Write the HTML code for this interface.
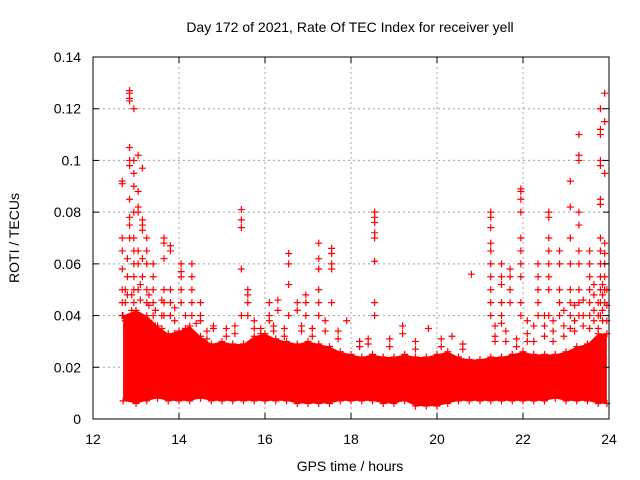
<!DOCTYPE html>
<html><head><meta charset="utf-8"><style>
body{margin:0;background:#fff}
svg{display:block;font-family:"Liberation Sans",Arial,sans-serif;font-size:14px}
</style></head><body>
<svg id="chart" width="640" height="480" viewBox="0 0 640 480">
<rect width="640" height="480" fill="#fff"/>
<text x="350" y="32" text-anchor="middle">Day 172 of 2021, Rate Of TEC Index for receiver yell</text>
<text x="350" y="471" text-anchor="middle">GPS time / hours</text>
<text transform="translate(19,238) rotate(-90)" text-anchor="middle">ROTI / TECUs</text>
<g id="grid"></g>
<g id="band"></g>
<g id="pts"></g>
<g id="axes"></g>
</svg>
<script>
const xTicks=[12,14,16,18,20,22,24];
const yTicks=[0,0.02,0.04,0.06,0.08,0.1,0.12,0.14];
const yTickLabels=["0","0.02","0.04","0.06","0.08","0.1","0.12","0.14"];
const bandHours=[12.7,13.0,13.25,13.5,13.75,14.0,14.25,14.5,14.75,15.0,15.25,15.5,15.75,16.0,16.25,16.5,16.75,17.0,17.25,17.5,17.75,18.0,18.25,18.5,18.75,19.0,19.25,19.5,19.75,20.0,20.25,20.5,20.75,21.0,21.25,21.5,21.75,22.0,22.25,22.5,22.75,23.0,23.25,23.5,23.75,23.95];
const bandLow=[.007,.006,.007,.008,.007,.007,.007,.008,.007,.007,.007,.007,.007,.007,.007,.007,.006,.006,.006,.006,.007,.007,.007,.007,.006,.006,.007,.005,.005,.005,.006,.007,.007,.007,.007,.007,.007,.007,.007,.007,.008,.007,.007,.007,.006,.006];
const bandHigh=[.04,.042,.04,.036,.033,.034,.036,.032,.029,.03,.029,.029,.032,.033,.031,.03,.029,.03,.029,.028,.026,.025,.024,.025,.024,.024,.025,.024,.024,.025,.026,.024,.023,.023,.024,.024,.025,.026,.025,.025,.025,.026,.028,.029,.033,.033];
const outlierHours=[12.68,12.8,12.85,12.95,13.05,13.15,13.25,13.4,13.65,13.8,14.05,14.3,14.5,14.8,15.1,15.45,15.6,15.9,16.1,16.3,16.55,16.75,16.95,17.25,17.55,17.9,18.55,19.2,19.8,20.35,20.8,21.25,21.5,21.7,21.95,22.35,22.6,22.85,23.1,23.3,23.55,23.8,23.9];
const outlierValues=[
[.091,.092,.07,.065,.058,.05,.045,.04],
[.062,.055,.048],
[.124,.126,.123,.127,.105,.1,.098,.085,.078,.075,.07],
[.12,.1,.095,.09,.08,.07,.065,.06,.055,.05,.045],
[.102,.088,.082,.08,.065,.06,.05,.04],
[.097,.077,.075,.073,.062,.055],
[.07,.065,.06,.05,.045],
[.06,.055,.05,.045,.04],
[.07,.068,.062,.05,.045,.04],
[.067,.065,.05,.045,.04],
[.06,.057,.055,.05,.045],
[.06,.055,.05,.045,.04],
[.045,.04,.038],
[.036,.035],
[.035,.032],
[.081,.077,.074,.058,.04],
[.05,.048,.045,.04],
[.035,.033],
[.045,.04,.038],
[.046,.042],
[.064,.06,.052,.04],
[.045,.042],
[.048,.045,.04],
[.068,.062,.058,.05,.045,.04],
[.066,.064,.06,.058,.045],
[.038],
[.08,.078,.076,.072,.07,.061,.045,.04],
[.036,.033],
[.035],
[.032],
[.056],
[.08,.078,.074,.068,.065,.06,.055,.05,.045,.04],
[.06,.055,.052,.045,.04,.037],
[.058,.055,.05,.045],
[.089,.088,.085,.08,.07,.065,.06,.055,.045,.04],
[.06,.055,.05,.045,.04],
[.08,.078,.07,.065,.06,.055,.05,.04],
[.065,.06,.05,.045,.04],
[.092,.082,.07,.06,.05,.045,.04,.035],
[.11,.102,.1,.08,.075,.065,.06,.05,.045,.04],
[.065,.06,.055,.05,.045,.04,.035],
[.12,.112,.11,.1,.098,.085,.083,.07,.065,.06,.055,.05,.045,.04],
[.126,.115,.095,.068,.064,.06,.055,.05,.045]
];
const midHours=[12.75,12.9,13.1,13.3,13.45,13.6,13.9,14.15,14.4,14.65,15.3,15.75,16.2,16.45,16.85,17.1,17.4,17.7,18.2,18.4,18.9,19.5,20.1,20.6,21.35,21.6,21.85,22.1,22.25,22.5,22.7,22.95,23.2,23.4,23.65,23.75,23.85,23.95];
const midValues=[
[.045,.038,.05],[.048,.042,.036],[.046,.04,.052],[.044,.038,.048],[.042,.036],[.04,.046,.035],
[.038,.033,.043],[.04,.035],[.037,.032],[.034,.031],[.033,.036],[.035,.038],[.036,.034],[.035,.032],
[.034,.036],[.035,.032],[.034,.038],[.031,.034],[.03,.028],[.031,.029],[.028,.031],[.027,.03],
[.028,.031],[.027,.029],[.032,.03,.036],[.03,.034],[.031,.028],[.033,.03,.038],[.03,.036],
[.032,.036,.04],[.034,.03,.038],[.036,.032,.042],[.038,.034,.044],[.04,.036,.046],
[.042,.038,.048,.052],[.045,.04,.035],[.048,.042,.038,.052],[.044,.038,.05]
];
const L=93,R=609,T=57,B=419;
const X=h=>L+(h-12)/12*(R-L);
const Y=v=>B-v/0.14*(B-T);
const NS="http://www.w3.org/2000/svg";
function mk(tag,parent,attrs){const e=document.createElementNS(NS,tag);for(const k in attrs)e.setAttribute(k,attrs[k]);parent.appendChild(e);return e;}
const grid=document.getElementById('grid'),axes=document.getElementById('axes'),band=document.getElementById('band'),pts=document.getElementById('pts');
xTicks.forEach((t,i)=>{
  if(i>0&&i<xTicks.length-1){const g=mk('line',grid,{x1:X(t),x2:X(t),y1:T,y2:B,stroke:'#a0a0a0','stroke-dasharray':'2,3'});
  
  }
  const tl=mk('text',axes,{x:X(t),y:B+25,'text-anchor':'middle'});tl.textContent=t;
  
  
  mk('line',axes,{x1:X(t),x2:X(t),y1:B,y2:B-6,stroke:'#000'});
  mk('line',axes,{x1:X(t),x2:X(t),y1:T,y2:T+6,stroke:'#000'});
});
yTicks.forEach((t,i)=>{
  if(i>0&&i<yTicks.length-1){const g=mk('line',grid,{x1:L,x2:R,y1:Y(t),y2:Y(t),stroke:'#a0a0a0','stroke-dasharray':'2,3'});
  
  }
  const tl=mk('text',axes,{x:L-12,y:Y(t)+5,'text-anchor':'end'});tl.textContent=yTickLabels[i];
  
  
  mk('line',axes,{x1:L,x2:L+6,y1:Y(t),y2:Y(t),stroke:'#000'});
  mk('line',axes,{x1:R,x2:R-6,y1:Y(t),y2:Y(t),stroke:'#000'});
});
const frame=mk('rect',axes,{x:L,y:T,width:R-L,height:B-T,fill:'none',stroke:'#000'});


let d='M'+X(bandHours[0])+','+Y(bandHigh[0]);
for(let i=1;i<bandHours.length;i++)d+=' L'+X(bandHours[i])+','+Y(bandHigh[i]);
for(let i=bandHours.length-1;i>=0;i--)d+=' L'+X(bandHours[i])+','+Y(bandLow[i]);
const bp=mk('path',band,{d:d+'Z',fill:'#ff0000'});


function plus(h,v){
  const x=X(h),y=Y(v);
  const p=mk('path',pts,{d:`M${x-3.5},${y}h7M${x},${y-3.5}v7`,stroke:'#ff0000','stroke-width':1.2,fill:'none'});
  
  
}
bandHours.forEach((h,i)=>{plus(h,bandHigh[i]);plus(h,bandLow[i]);});
outlierHours.forEach((h,i)=>outlierValues[i].forEach(v=>plus(h,v)));
midHours.forEach((h,i)=>midValues[i].forEach(v=>plus(h,v)));
</script>
</body></html>
